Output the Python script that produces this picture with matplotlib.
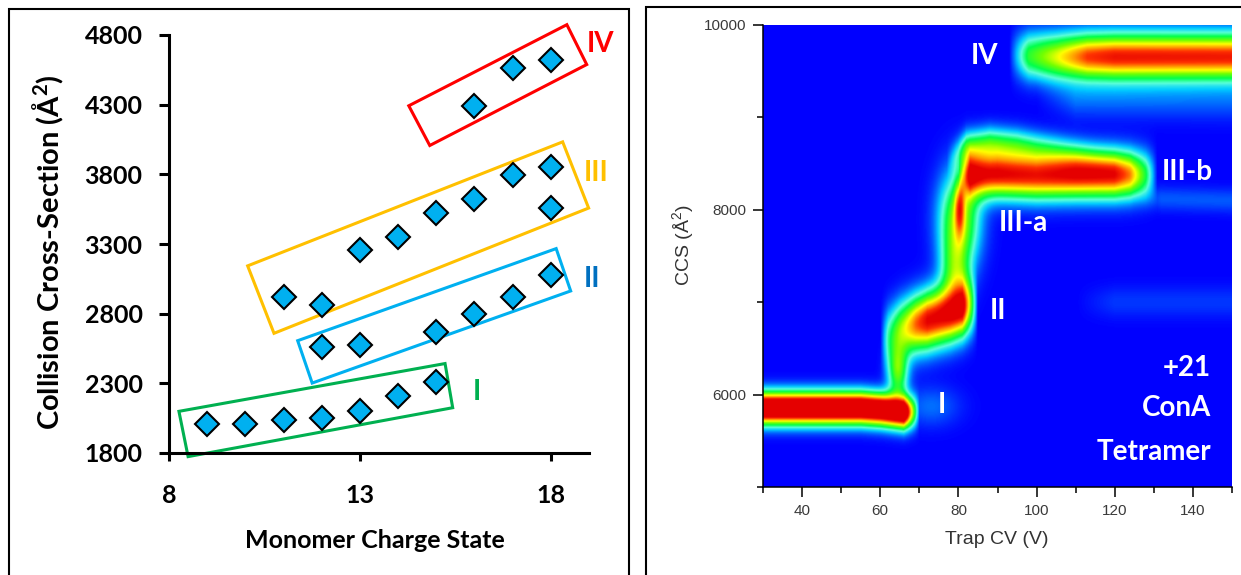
import numpy as np
import matplotlib
matplotlib.use("Agg")
import matplotlib.pyplot as plt
from matplotlib.colors import LinearSegmentedColormap
from matplotlib.patches import Polygon, Rectangle

plt.rcParams['mathtext.default'] = 'regular'

### left panel: CCS of each conformer family vs monomer charge state
charge_I = [9, 10, 11, 12, 13, 14, 15]
ccs_I = [2010, 2010, 2035, 2050, 2100, 2210, 2310]
charge_II = [12, 13, 15, 16, 17, 18]
ccs_II = [2560, 2575, 2670, 2800, 2920, 3080]
charge_III = [11, 12, 13, 14, 15, 16, 17, 18, 18]
ccs_III = [2920, 2860, 3260, 3350, 3525, 3625, 3795, 3850, 3560]
charge_IV = [16, 17, 18]
ccs_IV = [4290, 4560, 4620]

### outlines drawn round each family (corner charge, corner CCS)
box_I_x = [8.26, 15.23, 15.43, 8.50]
box_I_y = [2099, 2442, 2125, 1774]
box_II_x = [11.37, 18.14, 18.52, 11.75]
box_II_y = [2606, 3267, 2963, 2302]
box_III_x = [10.06, 18.31, 18.99, 10.75]
box_III_y = [3143, 4033, 3558, 2659]
box_IV_x = [14.28, 18.42, 18.94, 14.83]
box_IV_y = [4292, 4874, 4588, 4007]

family_names = ["I", "II", "III", "IV"]
family_label_x = [16.06, 19.08, 19.18, 19.31]
family_label_y = [2236, 3050, 3809, 4735]

### right panel: CIU fingerprint of the +21 tetramer
# ridge bands: trap CV nodes, centre CCS, peak intensity, CCS width
band_I_cv = [30, 55, 60, 66, 67.5, 70]
band_I_ccs = [5850, 5850, 5835, 5805, 5805, 5810]
band_I_amp = [1.4, 1.4, 1.38, 1.38, 0.8, 0.0]
band_I_wid = 116

band_II_cv = [60, 62, 65, 69, 72, 78, 81, 83, 85]
band_II_ccs = [6600, 6640, 6700, 6760, 6800, 6880, 6940, 6960, 6960]
band_II_amp = [0.0, 0.3, 0.55, 0.85, 1.0, 1.02, 1.05, 0.55, 0.0]
band_II_wid = 210

band_IIIb_cv = [80, 83, 90, 100, 110, 120, 124, 128, 131]
band_IIIb_ccs = [8360, 8390, 8390, 8370, 8380, 8380, 8380, 8380, 8380]
band_IIIb_amp = [0.0, 0.95, 1.0, 0.96, 1.0, 0.98, 0.82, 0.42, 0.0]
band_IIIb_wid = 170

band_IIIup_cv = [77, 82, 88, 95, 105, 115, 125]
band_IIIup_ccs = [8500, 8680, 8720, 8700, 8640, 8560, 8500]
band_IIIup_amp = [0.0, 0.35, 0.4, 0.35, 0.22, 0.1, 0.0]
band_IIIup_wid = 120

band_IV_cv = [93, 98, 105, 113, 120, 150]
band_IV_ccs = [9680, 9670, 9660, 9660, 9660, 9660]
band_IV_amp = [0.0, 0.45, 0.65, 0.9, 0.96, 0.95]
band_IV_wid = 170

band_IVlow_cv = [100, 110, 150]
band_IVlow_ccs = [9300, 9220, 9200]
band_IVlow_amp = [0.0, 0.1, 0.09]
band_IVlow_wid = 150

band_right_cv = [125, 132, 150]
band_right_ccs = [8150, 8120, 8100]
band_right_amp = [0.0, 0.08, 0.08]
band_right_wid = 90

band_faint_cv = [110, 120, 150]
band_faint_ccs = [7000, 7000, 7000]
band_faint_amp = [0.0, 0.05, 0.05]
band_faint_wid = 120

# isolated spots: trap CV, CCS, CV width, CCS width, intensity
spot_cv = [80.3, 80.3, 79.0, 64.5, 73.0]
spot_ccs = [8050, 7900, 7350, 6250, 5870]
spot_wcv = [0.9, 3.5, 2.5, 1.8, 5.0]
spot_wccs = [220, 350, 260, 200, 150]
spot_amp = [0.4, 0.6, 0.35, 0.5, 0.1]

state_names = ["IV", "III-b", "III-a", "II", "I"]
state_cv = [86.6, 138.5, 96.7, 90.1, 75.8]
state_ccs = [9662, 8411, 7855, 6909, 5888]

cv_grid = np.linspace(30, 150, 601)
ccs_grid = np.linspace(5000, 10000, 501)
CV, CCS = np.meshgrid(cv_grid, ccs_grid)


def ridge(cv_nodes, ccs_nodes, amp_nodes, width):
    centre = np.interp(cv_grid, cv_nodes, ccs_nodes)
    amp = np.interp(cv_grid, cv_nodes, amp_nodes, left=0, right=0)
    return amp[None, :] * np.exp(-0.5 * ((CCS - centre[None, :]) / width) ** 2)


fingerprint = np.zeros_like(CV)
fingerprint += ridge(band_I_cv, band_I_ccs, band_I_amp, band_I_wid)
fingerprint += ridge(band_II_cv, band_II_ccs, band_II_amp, band_II_wid)
fingerprint += ridge(band_IIIb_cv, band_IIIb_ccs, band_IIIb_amp, band_IIIb_wid)
fingerprint += ridge(band_IIIup_cv, band_IIIup_ccs, band_IIIup_amp, band_IIIup_wid)
fingerprint += ridge(band_IV_cv, band_IV_ccs, band_IV_amp, band_IV_wid)
fingerprint += ridge(band_IVlow_cv, band_IVlow_ccs, band_IVlow_amp, band_IVlow_wid)
fingerprint += ridge(band_right_cv, band_right_ccs, band_right_amp, band_right_wid)
fingerprint += ridge(band_faint_cv, band_faint_ccs, band_faint_amp, band_faint_wid)
for c, s, wc, ws, a in zip(spot_cv, spot_ccs, spot_wcv, spot_wccs, spot_amp):
    fingerprint += a * np.exp(-0.5 * (((CV - c) / wc) ** 2 + ((CCS - s) / ws) ** 2))
fingerprint = np.clip(fingerprint, 0, 1)

ciu_cmap = LinearSegmentedColormap.from_list("ciu", [
    (0.00, (0.0, 0.0, 1.0)),
    (0.08, (0.0, 0.35, 1.0)),
    (0.18, (0.0, 0.8, 1.0)),
    (0.28, (0.35, 1.0, 0.85)),
    (0.40, (0.0, 1.0, 0.3)),
    (0.55, (0.45, 1.0, 0.0)),
    (0.68, (1.0, 1.0, 0.0)),
    (0.80, (1.0, 0.6, 0.0)),
    (0.90, (1.0, 0.2, 0.0)),
    (1.00, (0.9, 0.0, 0.0)),
])

W, H = 1241, 575
fig = plt.figure(figsize=(W / 100, H / 100), dpi=100)

### panel frames
fig.add_artist(Rectangle((9 / W, -0.05), 620 / W, (H - 9) / H + 0.05,
                         transform=fig.transFigure, fill=False, lw=1.5, ec="black"))
fig.add_artist(Rectangle((646 / W, -0.05), 700 / W, (H - 7) / H + 0.05,
                         transform=fig.transFigure, fill=False, lw=1.5, ec="black"))

bold = dict(family="Lato", fontweight="bold")

ax1 = fig.add_axes([169 / W, 122 / H, 420 / W, 418 / H])
boxes = [(box_I_x, box_I_y, "#00B050"), (box_II_x, box_II_y, "#00B0F0"),
         (box_III_x, box_III_y, "#FFC000"), (box_IV_x, box_IV_y, "#FF0000")]
for bx, by, col in boxes:
    ax1.add_patch(Polygon(np.column_stack([bx, by]), closed=True, fill=False,
                          ec=col, lw=2.2, clip_on=False, zorder=2))
for cx, cy in [(charge_I, ccs_I), (charge_II, ccs_II), (charge_III, ccs_III), (charge_IV, ccs_IV)]:
    ax1.plot(cx, cy, ls="none", marker="D", ms=12, mfc="#00B0F0", mec="black",
             mew=1.5, clip_on=False, zorder=3)
label_colors = ["#00B050", "#0070C0", "#FFC000", "#FF0000"]
for name, lx, ly, col in zip(family_names, family_label_x, family_label_y, label_colors):
    ax1.text(lx, ly, name, color=col, fontsize=20, ha="center", va="center", **bold)

ax1.set_xlim(8, 19)
ax1.set_ylim(1800, 4800)
ax1.set_xticks([8, 13, 18])
ax1.set_yticks(range(1800, 4801, 500))
ax1.spines["top"].set_visible(False)
ax1.spines["right"].set_visible(False)
for sp in ["left", "bottom"]:
    ax1.spines[sp].set_linewidth(2.2)
ax1.tick_params(axis="y", direction="out", length=7, width=2.2, pad=12)
ax1.tick_params(axis="x", direction="out", length=6, width=2.2, pad=16)
for lbl in ax1.get_xticklabels() + ax1.get_yticklabels():
    lbl.set_fontfamily("Lato")
    lbl.set_fontweight("bold")
    lbl.set_fontsize(18)
fig.text(48 / W, 1 - 252 / H, "Collision Cross-Section (Å$^2$)", rotation=90,
         ha="center", va="center", fontsize=21, **bold)
fig.text(375 / W, 1 - 541 / H, "Monomer Charge State", ha="center", va="center",
         fontsize=18, **bold)

### right panel
ax2 = fig.add_axes([763 / W, 88 / H, 469 / W, 462 / H])
ax2.imshow(fingerprint, cmap=ciu_cmap, vmin=0, vmax=1, origin="lower", aspect="auto",
           extent=[30, 150, 5000, 10000], interpolation="bilinear")
ax2.set_xlim(30, 150)
ax2.set_ylim(5000, 10000)
ax2.set_xticks(range(40, 141, 20))
ax2.set_xticks(range(30, 151, 20), minor=True)
ax2.set_yticks([6000, 8000, 10000])
ax2.set_yticks([5000, 7000, 9000], minor=True)
ax2.spines["top"].set_visible(False)
ax2.spines["right"].set_visible(False)
for sp in ["left", "bottom"]:
    ax2.spines[sp].set_linewidth(1.1)
ax2.tick_params(which="major", direction="out", length=7, width=1.1,
                labelsize=11, labelcolor="#3a3a3a", pad=5)
ax2.tick_params(which="minor", direction="out", length=4, width=1.1)
for lbl in ax2.get_xticklabels() + ax2.get_yticklabels():
    lbl.set_fontfamily("Liberation Sans")

for name, sx, sy in zip(state_names, state_cv, state_ccs):
    ax2.text(sx, sy, name, color="white", fontsize=20, ha="center", va="center", **bold)
ax2.text(144.6, 6293, "+21", color="white", fontsize=20, ha="right", va="center", **bold)
ax2.text(144.6, 5850, "ConA", color="white", fontsize=20, ha="right", va="center", **bold)
ax2.text(144.6, 5383, "Tetramer", color="white", fontsize=20, ha="right", va="center", **bold)

fig.text(683 / W, 1 - 245 / H, "CCS (Å$^2$)", rotation=90, ha="center", va="center",
         fontsize=14, color="#333333", family="Liberation Sans")
fig.text(997 / W, 1 - 540 / H, "Trap CV (V)", ha="center", va="center",
         fontsize=14, color="#333333", family="Liberation Sans")

fig.savefig("out.png", dpi=100)
